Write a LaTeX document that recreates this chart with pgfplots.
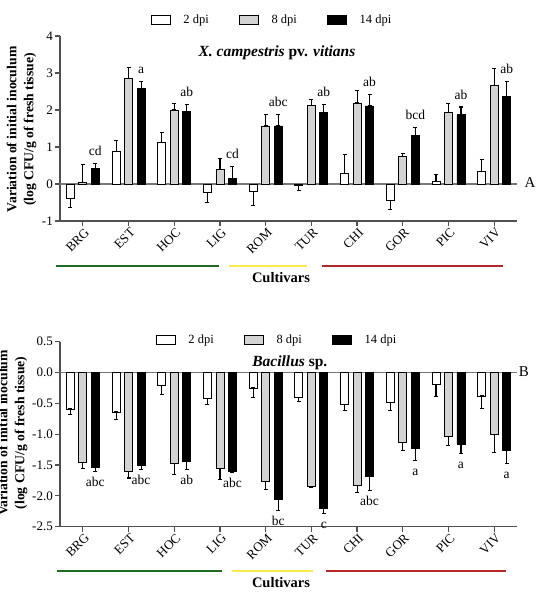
\documentclass[border=0pt]{standalone}
\usepackage{pgfplots}
\pgfplotsset{compat=1.18}
\usepackage{fontspec}
\setmainfont{Liberation Serif}

\definecolor{barGray}{HTML}{D3D3D3}
\definecolor{axisGray}{HTML}{505050}
\definecolor{zeroGray}{HTML}{787878}
\definecolor{grpGreen}{HTML}{1F6B21}
\definecolor{grpYellow}{HTML}{F8EC4C}
\definecolor{grpRed}{HTML}{B3262A}

\newcommand{\tickfont}{\fontsize{13}{15}\selectfont}
\newcommand{\letterfont}{\fontsize{13.5}{15}\selectfont}
\newcommand{\labelfont}{\bfseries\fontsize{13.7}{17}\selectfont}

% bars are placed at i-0.2735, i, i+0.2735 (12.5pt apart), so no bar shift is needed
\pgfplotsset{
  dpibar/.style={
    ybar, bar width=8pt, bar shift=0pt, draw=black, line width=0.8pt,
    error bars/y dir=both, error bars/y explicit,
    error bars/error bar style={black, line width=1.1pt},
    error bars/error mark options={rotate=90, mark size=2pt, line width=1.1pt, black},
    legend image code/.code={\draw[##1, line width=0.8pt] (0pt,-4.5pt) rectangle (19pt,4.5pt); \path (32pt,0pt);},
  },
  sigletters/.style={
    only marks, mark=none, nodes near coords, point meta=explicit symbolic,
    every node near coord/.append style={anchor=base, inner sep=0pt, font=\letterfont, yshift=#1, text=black},
  },
  cultaxis/.style={
    scale only axis, width=457pt, height=185pt,
    xmin=-0.5, xmax=9.5, clip=false,
    axis lines*=left,
    axis line style={axisGray, line width=1.2pt},
    tick style={axisGray, line width=1.2pt},
    tick align=outside, major tick length=5pt,
    xtick={0,...,9},
    xticklabels={BRG,EST,HOC,LIG,ROM,TUR,CHI,GOR,PIC,VIV},
    xticklabel style={rotate=45, anchor=east, inner sep=0pt, yshift=-6pt, font=\tickfont},
    yticklabel style={inner sep=0pt, xshift=-2pt, font=\tickfont},
    /pgf/number format/assume math mode=true,
    legend columns=3,
    legend style={draw=none, fill=none, anchor=center, font=\fontsize{12.5}{14}\selectfont,
      nodes={inner sep=0pt}, /tikz/every even column/.append style={column sep=30pt}},
  },
}

\begin{document}
\begin{tikzpicture}
\useasboundingbox (0pt,0pt) rectangle (536pt,-594pt);

% ---------------- X. campestris pv. vitians ----------------
\begin{axis}[cultaxis, at={(60pt,-221pt)}, anchor=south west,
  ymin=-1, ymax=4, ytick={-1,0,...,4},
  legend style={at={(0.4617,1.0865)}}]
\draw[zeroGray, line width=1.2pt] (axis cs:-0.5,0) -- (axis cs:9.5,0);
\addplot[dpibar, fill=white] coordinates {
  (-0.2735,-0.38) += (0,0) -= (0,0.25)
  (0.7265,0.88)  += (0,0.29) -= (0,0)
  (1.7265,1.13)  += (0,0.25) -= (0,0)
  (2.7265,-0.24) += (0,0) -= (0,0.25)
  (3.7265,-0.21) += (0,0) -= (0,0.36)
  (4.7265,-0.05) += (0,0) -= (0,0.13)
  (5.7265,0.29)  += (0,0.51) -= (0,0)
  (6.7265,-0.45) += (0,0) -= (0,0.25)
  (7.7265,0.07)  += (0,0.18) -= (0,0)
  (8.7265,0.33)  += (0,0.34) -= (0,0)
};
\addlegendentry{2 dpi}
\addplot[dpibar, fill=barGray] coordinates {
  (0,0.05) += (0,0.47) -= (0,0)
  (1,2.85) += (0,0.31) -= (0,0)
  (2,2.00) += (0,0.17) -= (0,0)
  (3,0.40) += (0,0.29) -= (0,0)
  (4,1.57) += (0,0.31) -= (0,0)
  (5,2.13) += (0,0.15) -= (0,0)
  (6,2.19) += (0,0.34) -= (0,0)
  (7,0.75) += (0,0.08) -= (0,0)
  (8,1.93) += (0,0.24) -= (0,0)
  (9,2.66) += (0,0.45) -= (0,0)
};
\addlegendentry{8 dpi}
\addplot[dpibar, fill=black] coordinates {
  (0.2735,0.43) += (0,0.13) -= (0,0)
  (1.2735,2.59) += (0,0.17) -= (0,0)
  (2.2735,1.95) += (0,0.21) -= (0,0)
  (3.2735,0.15) += (0,0.32) -= (0,0)
  (4.2735,1.57) += (0,0.32) -= (0,0)
  (5.2735,1.93) += (0,0.21) -= (0,0)
  (6.2735,2.11) += (0,0.31) -= (0,0)
  (7.2735,1.32) += (0,0.20) -= (0,0)
  (8.2735,1.87) += (0,0.21) -= (0,0)
  (9.2735,2.36) += (0,0.42) -= (0,0)
};
\addlegendentry{14 dpi}
\addplot[sigletters=8pt, forget plot] coordinates {
  (0.2735,0.56) [cd]
  (1.2735,2.76) [a]
  (2.2735,2.16) [ab]
  (3.2735,0.47) [cd]
  (4.2735,1.89) [abc]
  (5.2735,2.14) [ab]
  (6.2735,2.42) [ab]
  (7.2735,1.52) [bcd]
  (8.2735,2.08) [ab]
  (9.2735,2.78) [ab]
};
\node[font=\bfseries\fontsize{15.5}{18}\selectfont] at (rel axis cs:0.4748,0.908)
  {\textit{X. campestris} pv. \textit{vitians}};
\node[font=\fontsize{15}{18}\selectfont] at (rel axis cs:1.0284,0.21) {A};
\end{axis}

\node[rotate=90, align=center, font=\labelfont] at (21.5pt,-129.5pt)
  {Variation of initial inoculum\\(log CFU/g of fresh tissue)};
\draw[grpGreen, line width=2.2pt] (56pt,-265.7pt) -- (219pt,-265.7pt);
\draw[grpYellow, line width=2.2pt] (229pt,-265.7pt) -- (307pt,-265.7pt);
\draw[grpRed, line width=2.2pt] (322pt,-265.7pt) -- (503pt,-265.7pt);
\node[font=\bfseries\fontsize{14.5}{17}\selectfont] at (281pt,-278pt) {Cultivars};

% ---------------- Bacillus sp. ----------------
\begin{axis}[cultaxis, at={(60pt,-526.7pt)}, anchor=south west,
  ymin=-2.5, ymax=0.5, ytick={-2.5,-2,...,0.5},
  /pgf/number format/fixed, /pgf/number format/fixed zerofill, /pgf/number format/precision=1,
  legend style={at={(0.4726,1.012)}}]
\draw[zeroGray, line width=1.2pt] (axis cs:-0.5,0) -- (axis cs:9.5,0);
\addplot[dpibar, fill=white] coordinates {
  (-0.2735,-0.59) += (0,0) -= (0,0.09)
  (0.7265,-0.64)  += (0,0) -= (0,0.12)
  (1.7265,-0.215) += (0,0) -= (0,0.14)
  (2.7265,-0.42)  += (0,0) -= (0,0.10)
  (3.7265,-0.25)  += (0,0) -= (0,0.16)
  (4.7265,-0.41)  += (0,0) -= (0,0.06)
  (5.7265,-0.52)  += (0,0) -= (0,0.09)
  (6.7265,-0.48)  += (0,0) -= (0,0.13)
  (7.7265,-0.19)  += (0,0) -= (0,0.20)
  (8.7265,-0.38)  += (0,0) -= (0,0.21)
};
\addlegendentry{2 dpi}
\addplot[dpibar, fill=barGray] coordinates {
  (0,-1.46) += (0,0) -= (0,0.09)
  (1,-1.60) += (0,0) -= (0,0.11)
  (2,-1.48) += (0,0) -= (0,0.18)
  (3,-1.56) += (0,0) -= (0,0.17)
  (4,-1.77) += (0,0) -= (0,0.13)
  (5,-1.85) += (0,0) -= (0,0.01)
  (6,-1.83) += (0,0) -= (0,0.12)
  (7,-1.13) += (0,0) -= (0,0.14)
  (8,-1.04) += (0,0) -= (0,0.14)
  (9,-1.00) += (0,0) -= (0,0.30)
};
\addlegendentry{8 dpi}
\addplot[dpibar, fill=black] coordinates {
  (0.2735,-1.54) += (0,0) -= (0,0.06)
  (1.2735,-1.51) += (0,0) -= (0,0.06)
  (2.2735,-1.44) += (0,0) -= (0,0.13)
  (3.2735,-1.61) += (0,0) -= (0,0.01)
  (4.2735,-2.05) += (0,0) -= (0,0.18)
  (5.2735,-2.20) += (0,0) -= (0,0.08)
  (6.2735,-1.69) += (0,0) -= (0,0.22)
  (7.2735,-1.23) += (0,0) -= (0,0.20)
  (8.2735,-1.16) += (0,0) -= (0,0.15)
  (9.2735,-1.26) += (0,0) -= (0,0.21)
};
\addlegendentry{14 dpi}
\addplot[sigletters=-15pt, forget plot] coordinates {
  (0.2735,-1.60) [abc]
  (1.2735,-1.57) [abc]
  (2.2735,-1.57) [ab]
  (3.2735,-1.62) [abc]
  (4.2735,-2.23) [bc]
  (5.2735,-2.28) [c]
  (6.2735,-1.91) [abc]
  (7.2735,-1.43) [a]
  (8.2735,-1.31) [a]
  (9.2735,-1.47) [a]
};
\node[font=\bfseries\fontsize{15.5}{18}\selectfont] at (rel axis cs:0.503,0.885)
  {\textit{Bacillus} sp.};
\node[font=\fontsize{15}{18}\selectfont] at (rel axis cs:1.0153,0.838) {B};
\end{axis}

\node[rotate=90, align=center, font=\labelfont] at (12.5pt,-433pt)
  {Variation of initial inoculum\\(log CFU/g of fresh tissue)};
\draw[grpGreen, line width=2.2pt] (57pt,-570.7pt) -- (222pt,-570.7pt);
\draw[grpYellow, line width=2.2pt] (232pt,-570.7pt) -- (313pt,-570.7pt);
\draw[grpRed, line width=2.2pt] (326pt,-570.7pt) -- (506pt,-570.7pt);
\node[font=\bfseries\fontsize{14.5}{17}\selectfont] at (281pt,-583pt) {Cultivars};
\end{tikzpicture}
\end{document}
